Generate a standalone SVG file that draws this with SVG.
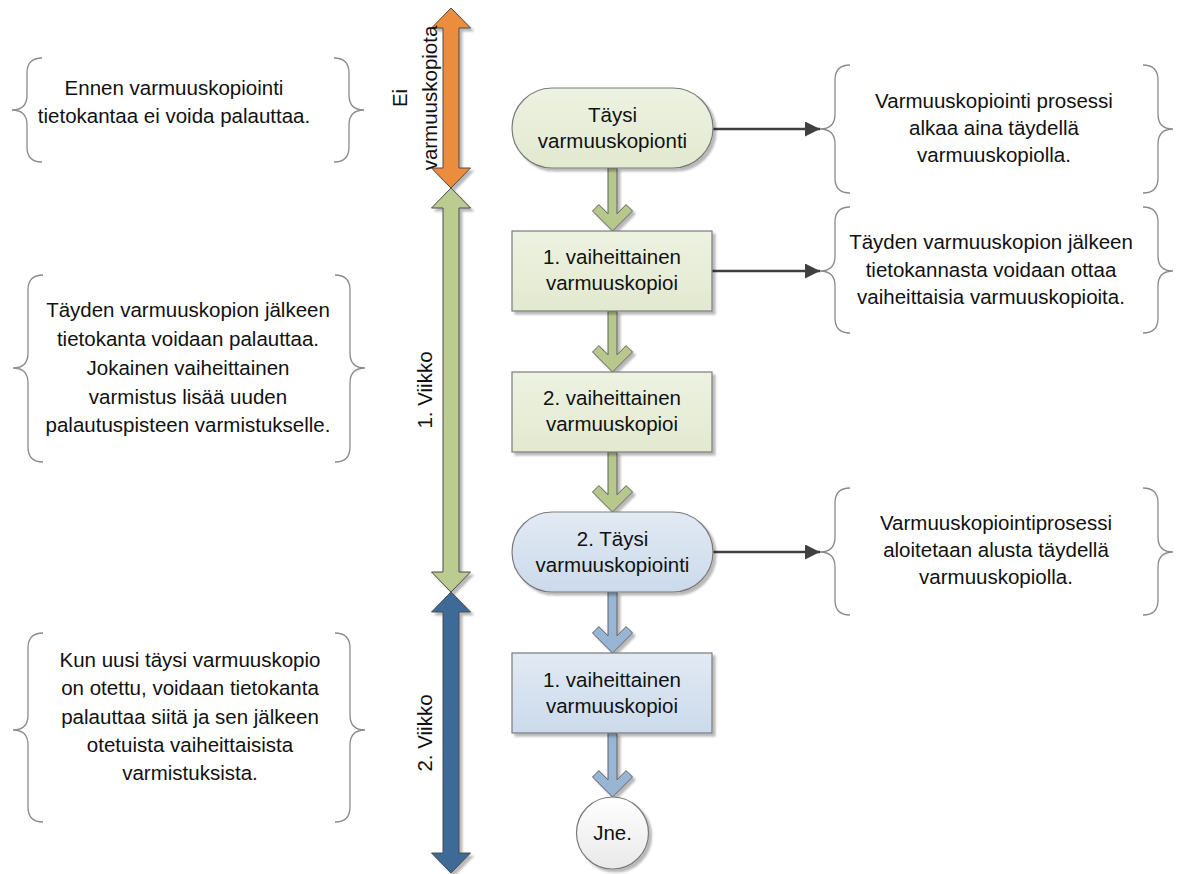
<svg xmlns="http://www.w3.org/2000/svg" width="1181" height="874" viewBox="0 0 1181 874">
  <style>
    text { font-family: "Liberation Sans", Arial, sans-serif; font-size: 20.5px; fill: #111; text-anchor: middle; }
    .brace { fill: none; stroke: #8a8a8a; stroke-width: 1.3; }
    .node { stroke: #7a7a7a; stroke-width: 1.2; }
    .green { fill: url(#gGreen); }
    .blue { fill: url(#gBlue); }
    .big { stroke: #4a4a4a; stroke-width: 1; }
    .down { stroke: #5e5e5e; stroke-width: 1; }
    .link { fill: none; stroke: #404040; stroke-width: 2.5; marker-end: url(#tri); }
  </style>
  <defs>
    <linearGradient id="gGreen" x1="0" y1="0" x2="0" y2="1">
      <stop offset="0" stop-color="#eef2e2"/>
      <stop offset="1" stop-color="#e2e9cf"/>
    </linearGradient>
    <linearGradient id="gBlue" x1="0" y1="0" x2="0" y2="1">
      <stop offset="0" stop-color="#e2eaf4"/>
      <stop offset="1" stop-color="#cbdaeb"/>
    </linearGradient>
    <linearGradient id="gWhite" x1="0" y1="0" x2="0" y2="1">
      <stop offset="0" stop-color="#ffffff"/>
      <stop offset="1" stop-color="#e9e9e9"/>
    </linearGradient>
    <filter id="shadow" x="-20%" y="-20%" width="140%" height="140%">
      <feGaussianBlur in="SourceAlpha" stdDeviation="1.2"/>
      <feOffset dx="3" dy="3" result="b"/>
      <feComponentTransfer><feFuncA type="linear" slope="0.28"/></feComponentTransfer>
      <feMerge><feMergeNode/><feMergeNode in="SourceGraphic"/></feMerge>
    </filter>
    <marker id="tri" viewBox="0 0 10 10" refX="10" refY="5" markerWidth="7.5" markerHeight="6" markerUnits="strokeWidth" orient="auto">
      <path d="M0,0 L10,5 L0,10 Z" fill="#404040"/>
    </marker>
  </defs>

  <!-- timeline arrows -->
  <g id="timeline" filter="url(#shadow)">
    <polygon class="big" fill="#ec8c3e" points="451,8 470.5,28 459,28 459,168 470.5,168 451,188 431.5,168 443,168 443,28 431.5,28"/>
    <polygon class="big" fill="#bccb8f" points="451,188 470.5,208 459,208 459,572 470.5,572 451,592 431.5,572 443,572 443,208 431.5,208"/>
    <polygon class="big" fill="#3c6a97" points="451,592 470.5,612 459,612 459,853 470.5,853 451,873 431.5,853 443,853 443,612 431.5,612"/>
  </g>
  <g id="timeline-labels">
    <text transform="translate(407,98) rotate(-90)">Ei</text>
    <text transform="translate(437,98) rotate(-90)">varmuuskopiota</text>
    <text transform="translate(432,390) rotate(-90)">1. Viikko</text>
    <text transform="translate(432,733) rotate(-90)">2. Viikko</text>
  </g>

  <!-- connectors -->
  <g id="connectors">
    <g filter="url(#shadow)">
      <polygon class="down" fill="#b8c78c" points="592.5,211 598.9,204.6 608,213.8 608,168 617,168 617,213.8 626.1,204.6 632.5,211 612.5,231"/>
      <polygon class="down" fill="#b8c78c" points="592.5,352 598.9,345.6 608,354.8 608,311 617,311 617,354.8 626.1,345.6 632.5,352 612.5,372"/>
      <polygon class="down" fill="#b8c78c" points="592.5,492 598.9,485.6 608,494.8 608,452 617,452 617,494.8 626.1,485.6 632.5,492 612.5,512"/>
      <polygon class="down" fill="#98b5d6" points="592.5,633 598.9,626.6 608,635.8 608,592 617,592 617,635.8 626.1,626.6 632.5,633 612.5,653"/>
      <polygon class="down" fill="#98b5d6" points="592.5,777 598.9,770.6 608,779.8 608,733 617,733 617,779.8 626.1,770.6 632.5,777 612.5,797"/>
    </g>
    <line class="link" x1="713" y1="129" x2="820" y2="129"/>
    <line class="link" x1="712" y1="271" x2="820" y2="271"/>
    <line class="link" x1="713" y1="552" x2="820" y2="552"/>
  </g>

  <!-- process nodes -->
  <g id="n1">
    <rect class="node green" filter="url(#shadow)" x="512" y="88" width="201" height="80" rx="40" ry="40"/>
    <text x="612.5" y="122">Täysi</text>
    <text x="612.5" y="148">varmuuskopionti</text>
  </g>
  <g id="n2">
    <rect class="node green" filter="url(#shadow)" x="512" y="231" width="200" height="80"/>
    <text x="612" y="264">1. vaiheittainen</text>
    <text x="612" y="290">varmuuskopioi</text>
  </g>
  <g id="n3">
    <rect class="node green" filter="url(#shadow)" x="512" y="372" width="200" height="80"/>
    <text x="612" y="405">2. vaiheittainen</text>
    <text x="612" y="431">varmuuskopioi</text>
  </g>
  <g id="n4">
    <rect class="node blue" filter="url(#shadow)" x="512" y="512" width="201" height="80" rx="40" ry="40"/>
    <text x="612.5" y="546">2. Täysi</text>
    <text x="612.5" y="572">varmuuskopiointi</text>
  </g>
  <g id="n5">
    <rect class="node blue" filter="url(#shadow)" x="512" y="653" width="200" height="80"/>
    <text x="612" y="687">1. vaiheittainen</text>
    <text x="612" y="713">varmuuskopioi</text>
  </g>
  <g id="n6">
    <circle class="node" fill="url(#gWhite)" filter="url(#shadow)" cx="612.5" cy="833" r="36"/>
    <text x="612.5" y="840">Jne.</text>
  </g>

  <!-- notes on the left -->
  <g id="note-before">
    <path class="brace" d="M42,58 C32,58 27,63 27,73 L27,95 C27,105 22,110 12,110 C22,110 27,115 27,125 L27,147 C27,157 32,162 42,162"/>
    <path class="brace" d="M334,58 C344,58 349,63 349,73 L349,95 C349,105 354,110 364,110 C354,110 349,115 349,125 L349,147 C349,157 344,162 334,162"/>
    <text x="174" y="95">Ennen varmuuskopiointi</text>
    <text x="174" y="123">tietokantaa ei voida palauttaa.</text>
  </g>
  <g id="note-week1">
    <path class="brace" d="M43,275 C33,275 28,280 28,290 L28,353 C28,363 23,368 13,368 C23,368 28,373 28,383 L28,447 C28,457 33,462 43,462"/>
    <path class="brace" d="M335,275 C345,275 350,280 350,290 L350,353 C350,363 355,368 365,368 C355,368 350,373 350,383 L350,447 C350,457 345,462 335,462"/>
    <text x="188" y="317">Täyden varmuuskopion jälkeen</text>
    <text x="188" y="346">tietokanta voidaan palauttaa.</text>
    <text x="188" y="375">Jokainen vaiheittainen</text>
    <text x="188" y="404">varmistus lisää uuden</text>
    <text x="188" y="432">palautuspisteen varmistukselle.</text>
  </g>
  <g id="note-week2">
    <path class="brace" d="M43,633 C33,633 28,638 28,648 L28,715 C28,725 23,730 13,730 C23,730 28,735 28,745 L28,807 C28,817 33,822 43,822"/>
    <path class="brace" d="M335,633 C345,633 350,638 350,648 L350,715 C350,725 355,730 365,730 C355,730 350,735 350,745 L350,807 C350,817 345,822 335,822"/>
    <text x="190" y="667">Kun uusi täysi varmuuskopio</text>
    <text x="190" y="695">on otettu, voidaan tietokanta</text>
    <text x="190" y="724">palauttaa siitä ja sen jälkeen</text>
    <text x="190" y="752">otetuista vaiheittaisista</text>
    <text x="190" y="780">varmistuksista.</text>
  </g>

  <!-- notes on the right -->
  <g id="note-full">
    <path class="brace" d="M850,65 C840,65 835,70 835,80 L835,114 C835,124 830,129 820,129 C830,129 835,134 835,144 L835,178 C835,188 840,193 850,193"/>
    <path class="brace" d="M1143,65 C1153,65 1158,70 1158,80 L1158,114 C1158,124 1163,129 1173,129 C1163,129 1158,134 1158,144 L1158,178 C1158,188 1153,193 1143,193"/>
    <text x="994" y="108">Varmuuskopiointi prosessi</text>
    <text x="994" y="135">alkaa aina täydellä</text>
    <text x="994" y="162">varmuuskopiolla.</text>
  </g>
  <g id="note-incremental">
    <path class="brace" d="M850,207 C840,207 835,212 835,222 L835,256 C835,266 830,271 820,271 C830,271 835,276 835,286 L835,318 C835,328 840,333 850,333"/>
    <path class="brace" d="M1143,207 C1153,207 1158,212 1158,222 L1158,256 C1158,266 1163,271 1173,271 C1163,271 1158,276 1158,286 L1158,318 C1158,328 1153,333 1143,333"/>
    <text x="991" y="249">Täyden varmuuskopion jälkeen</text>
    <text x="991" y="277">tietokannasta voidaan ottaa</text>
    <text x="991" y="304">vaiheittaisia varmuuskopioita.</text>
  </g>
  <g id="note-restart">
    <path class="brace" d="M850,488 C840,488 835,493 835,503 L835,537 C835,547 830,552 820,552 C830,552 835,557 835,567 L835,600 C835,610 840,615 850,615"/>
    <path class="brace" d="M1143,488 C1153,488 1158,493 1158,503 L1158,537 C1158,547 1163,552 1173,552 C1163,552 1158,557 1158,567 L1158,600 C1158,610 1153,615 1143,615"/>
    <text x="996" y="530">Varmuuskopiointiprosessi</text>
    <text x="996" y="557">aloitetaan alusta täydellä</text>
    <text x="996" y="584">varmuuskopiolla.</text>
  </g>
</svg>
